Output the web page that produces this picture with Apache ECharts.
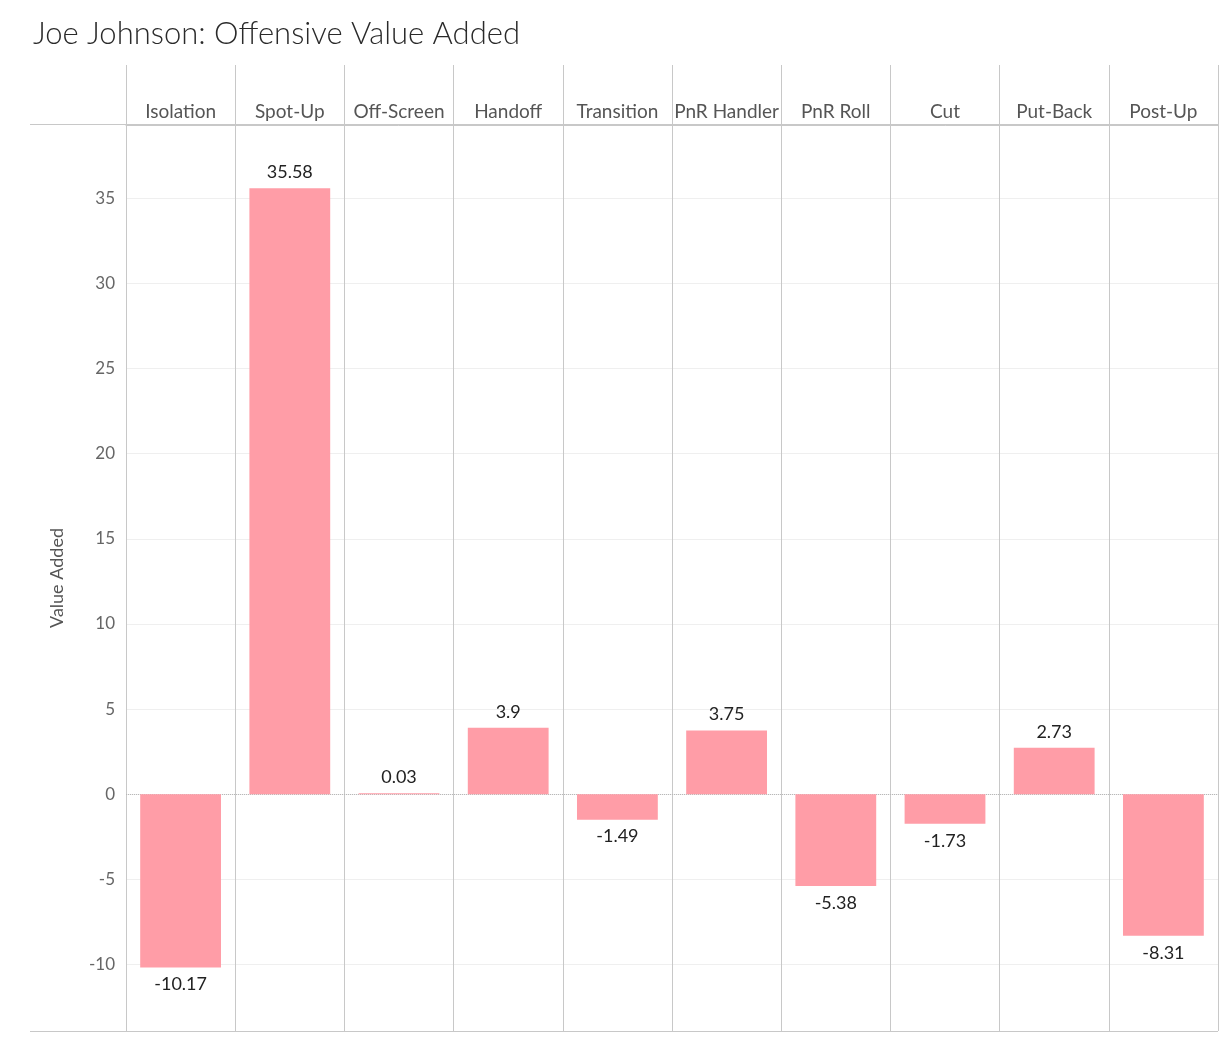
<!DOCTYPE html>
<html>
<head>
<meta charset="utf-8">
<script src="https://cdn.jsdelivr.net/npm/echarts@6/dist/echarts.min.js"></script>
<style>
html,body{margin:0;padding:0;background:#fff;}
#chart{width:1228px;height:1037px;}
</style>
</head>
<body>
<div id="chart"></div>
<script>
const titleText = 'Joe Johnson: Offensive Value Added';
const categories = ['Isolation','Spot-Up','Off-Screen','Handoff','Transition','PnR Handler','PnR Roll','Cut','Put-Back','Post-Up'];
const values = [-10.17, 35.58, 0.03, 3.9, -1.49, 3.75, -5.38, -1.73, 2.73, -8.31];
const yTicks = [-10, -5, 0, 5, 10, 15, 20, 25, 30, 35];
const yMin = -13.9;
const yMax = 39.3;

const chart = echarts.init(document.getElementById('chart'));
const FONT = 'Lato, "Open Sans", sans-serif';

const barData = values.map(v => ({
  value: v,
  label: v < 0 ? { position: 'bottom', distance: 8 } : { position: 'top', distance: 7 }
}));

chart.setOption({
  animation: false,
  backgroundColor: '#ffffff',
  title: {
    text: titleText,
    left: 28,
    top: 13,
    textStyle: { fontFamily: FONT, fontWeight: 300, fontSize: 31, color: '#2a2a2a' }
  },
  grid: { left: 126, right: 10, top: 125, bottom: 6, containLabel: false },
  xAxis: {
    type: 'category',
    position: 'top',
    data: categories,
    boundaryGap: true,
    axisLine: { show: true, onZero: false, lineStyle: { color: '#c8c8c8', width: 1 } },
    axisTick: { show: true, inside: false, length: 60, lineStyle: { color: '#c8c8c8', width: 1 } },
    axisLabel: { margin: 4, fontFamily: FONT, fontSize: 19, color: '#555', interval: 0 },
    splitLine: { show: true, lineStyle: { color: '#c8c8c8', width: 1 } }
  },
  yAxis: {
    type: 'value',
    min: yMin,
    max: yMax,
    name: 'Value Added',
    nameLocation: 'middle',
    nameGap: 60,
    nameTextStyle: { fontFamily: FONT, fontSize: 18, color: '#555' },
    axisLine: { show: false },
    axisTick: { show: false, customValues: yTicks },
    axisLabel: { customValues: yTicks, margin: 11, fontFamily: FONT, fontSize: 17, color: '#666' },
    splitLine: { show: true, lineStyle: { color: '#efefef', width: 1 } }
  },
  series: [{
    type: 'bar',
    data: barData,
    barWidth: '74%',
    barMinHeight: 1,
    itemStyle: { color: '#FF9DA7' },
    label: {
      show: true,
      fontFamily: FONT,
      fontSize: 18,
      color: '#222',
      formatter: p => String(p.value)
    },
    markLine: {
      silent: true,
      symbol: 'none',
      label: { show: false },
      z: 1,
      lineStyle: { color: '#b8b8b8', type: 'dotted', width: 1 },
      data: [{ yAxis: 0 }]
    },
    z: 2
  }],
  graphic: [
    { type: 'line', shape: { x1: 30, y1: 124.5, x2: 1218, y2: 124.5 }, style: { stroke: '#c8c8c8', lineWidth: 1 }, z: 10 },
    { type: 'line', shape: { x1: 30, y1: 1031.5, x2: 1218, y2: 1031.5 }, style: { stroke: '#c8c8c8', lineWidth: 1 }, z: 10 }
  ]
});
</script>
</body>
</html>
